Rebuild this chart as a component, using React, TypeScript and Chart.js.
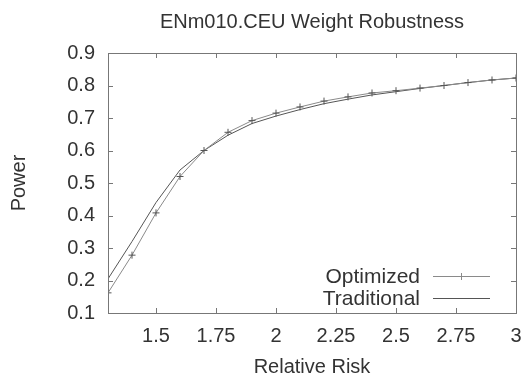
import React, { useEffect, useRef } from "react";
import { Chart, registerables } from "chart.js";

Chart.register(...registerables);

const relativeRisk = [1.3, 1.4, 1.5, 1.6, 1.7, 1.8, 1.9, 2.0, 2.1, 2.2, 2.3, 2.4, 2.5, 2.6, 2.7, 2.8, 2.9, 3.0];
const optimizedPower = [0.162, 0.278, 0.408, 0.52, 0.6, 0.656, 0.692, 0.715, 0.734, 0.752, 0.765, 0.777, 0.784, 0.792, 0.8, 0.809, 0.817, 0.823];
const traditionalPower = [0.205, 0.32, 0.44, 0.54, 0.6, 0.647, 0.683, 0.706, 0.726, 0.744, 0.758, 0.771, 0.781, 0.791, 0.8, 0.809, 0.817, 0.823];
const xTickValues = [1.5, 1.75, 2, 2.25, 2.5, 2.75, 3];
const yTickValues = [0.1, 0.2, 0.3, 0.4, 0.5, 0.6, 0.7, 0.8, 0.9];
const chartTitle = "ENm010.CEU Weight Robustness";
const seriesNames = ["Optimized", "Traditional"];

const FONT = "'Liberation Sans', Arial, Helvetica, sans-serif";
const TEXT = "#333";
const FRAME = "#777";

const framePlugin = {
  id: "gnuFrame",
  afterDraw(chart: any) {
    const { ctx, chartArea: a, scales } = chart;
    ctx.save();
    ctx.strokeStyle = FRAME;
    ctx.lineWidth = 1;
    ctx.strokeRect(Math.round(a.left) + 0.5, Math.round(a.top) + 0.5, Math.round(a.right - a.left), Math.round(a.bottom - a.top));
    const tl = 5;
    ctx.beginPath();
    for (const v of xTickValues) {
      const px = Math.round(scales.x.getPixelForValue(v)) + 0.5;
      ctx.moveTo(px, a.bottom);
      ctx.lineTo(px, a.bottom - tl);
      ctx.moveTo(px, a.top);
      ctx.lineTo(px, a.top + tl);
    }
    for (const v of yTickValues) {
      const py = Math.round(scales.y.getPixelForValue(v)) + 0.5;
      ctx.moveTo(a.left, py);
      ctx.lineTo(a.left + tl, py);
      ctx.moveTo(a.right, py);
      ctx.lineTo(a.right - tl, py);
    }
    ctx.stroke();

    // title
    ctx.fillStyle = TEXT;
    ctx.font = `20px ${FONT}`;
    ctx.textAlign = "center";
    ctx.textBaseline = "middle";
    ctx.fillText(chartTitle, (a.left + a.right) / 2, 22);

    // legend
    ctx.font = `21px ${FONT}`;
    ctx.textAlign = "right";
    const ds = chart.data.datasets;
    const rows = [a.bottom - 37, a.bottom - 15];
    rows.forEach((y: number, i: number) => {
      ctx.fillStyle = TEXT;
      ctx.fillText(ds[i].label, a.right - 96, y + 1);
      ctx.strokeStyle = ds[i].borderColor;
      ctx.lineWidth = 1;
      ctx.beginPath();
      ctx.moveTo(a.right - 83, Math.round(y) + 0.5);
      ctx.lineTo(a.right - 26, Math.round(y) + 0.5);
      if (i === 0) {
        const mx = Math.round(a.right - 55) + 0.5;
        ctx.moveTo(mx, y - 3);
        ctx.lineTo(mx, y + 4);
      }
      ctx.stroke();
    });
    ctx.restore();
  },
};

export default function App() {
  const ref = useRef<HTMLCanvasElement>(null);
  useEffect(() => {
    if (!ref.current) return;
    const chart = new Chart(ref.current, {
      type: "line",
      data: {
        datasets: [
          {
            label: seriesNames[0],
            data: relativeRisk.map((x, i) => ({ x, y: optimizedPower[i] })),
            borderColor: "#8a8a8a",
            borderWidth: 1,
            pointStyle: "cross",
            pointRadius: 3.5,
            pointBorderColor: "#555",
            pointBorderWidth: 1,
            tension: 0,
            fill: false,
          },
          {
            label: seriesNames[1],
            data: relativeRisk.map((x, i) => ({ x, y: traditionalPower[i] })),
            borderColor: "#555",
            borderWidth: 1,
            pointRadius: 0,
            tension: 0,
            fill: false,
          },
        ],
      },
      plugins: [framePlugin],
      options: {
        animation: false,
        responsive: false,
        layout: { padding: { top: 53, right: 12, left: 0, bottom: 0 } },
        plugins: { legend: { display: false }, title: { display: false }, tooltip: { enabled: false } },
        scales: {
          x: {
            type: "linear",
            min: 1.3,
            max: 3,
            afterBuildTicks: (s: any) => {
              s.ticks = xTickValues.map((v) => ({ value: v }));
            },
            afterFit: (s: any) => {
              s.height = 62;
              s.paddingLeft = 0;
              s.paddingRight = 0;
            },
            grid: { display: false, drawTicks: false },
            border: { display: false },
            ticks: { color: TEXT, font: { size: 20, family: FONT }, padding: 11, maxRotation: 0, autoSkip: false, callback: (v: any) => String(v) },
            title: { display: true, text: "Relative Risk", color: TEXT, font: { size: 20, family: FONT, lineHeight: 0.8 }, padding: { top: 0, bottom: 0 } },
          },
          y: {
            type: "linear",
            min: 0.1,
            max: 0.9,
            afterBuildTicks: (s: any) => {
              s.ticks = yTickValues.map((v) => ({ value: v }));
            },
            afterFit: (s: any) => {
              s.width = 108;
              s.paddingTop = 0;
              s.paddingBottom = 0;
            },
            grid: { display: false, drawTicks: false },
            border: { display: false },
            ticks: { color: TEXT, font: { size: 20, family: FONT }, padding: 13, autoSkip: false, callback: (v: any) => Number(v).toFixed(1) },
            title: { display: true, text: "Power", color: TEXT, font: { size: 20, family: FONT, lineHeight: 0.8 }, padding: { top: 11, bottom: 0 } },
          },
        },
      },
    });
    return () => chart.destroy();
  }, []);
  return (
    <div style={{ position: "fixed", left: 0, top: 0, width: 528, height: 375, background: "#fff" }}>
      <canvas ref={ref} width={528} height={375} style={{ display: "block" }} />
    </div>
  );
}
